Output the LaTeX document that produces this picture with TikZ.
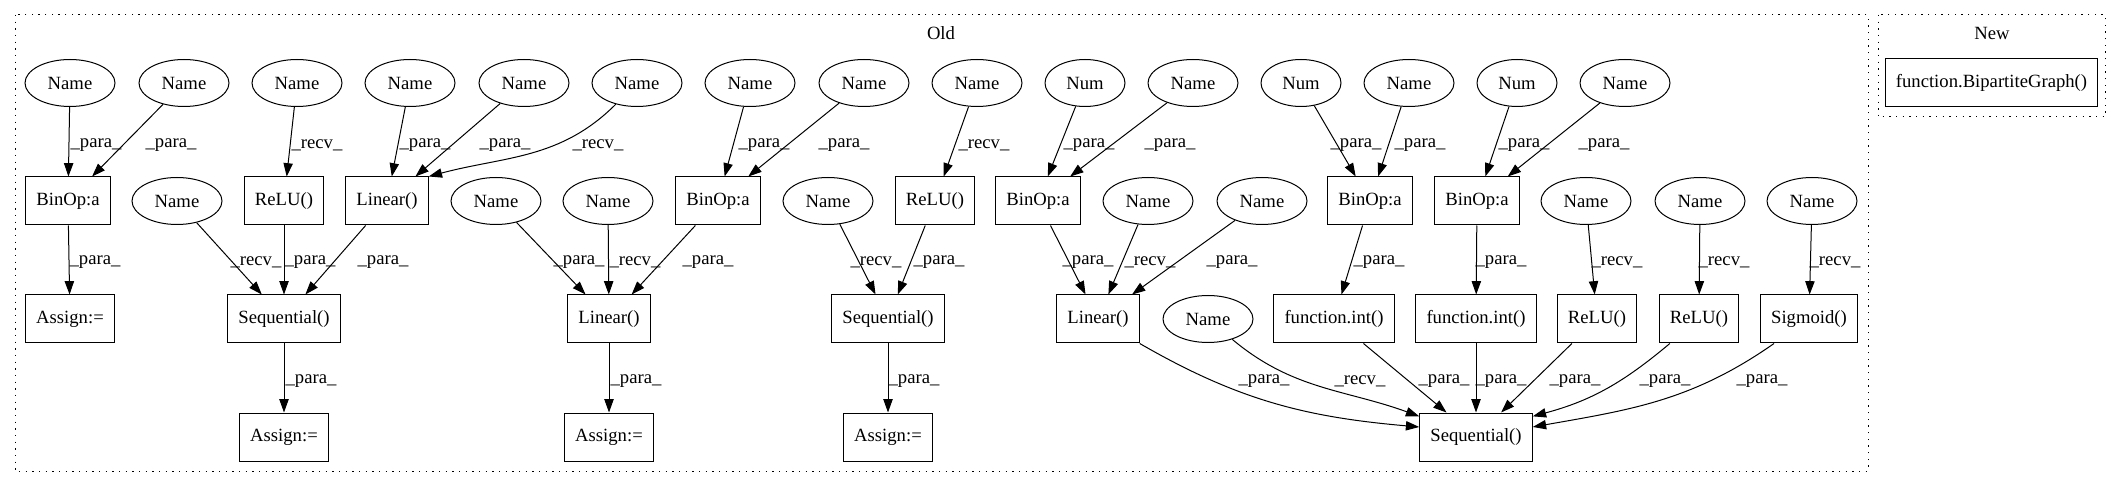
\documentclass[tikz,border=0pt]{standalone}
\usepackage{fontspec}
\setmainfont{Liberation Serif}
\usetikzlibrary{arrows.meta,shapes.geometric}

\begin{document}
\begin{tikzpicture}[x=0.75pt,y=-0.75pt,line width=0.75pt,
    font=\fontsize{14}{16}\selectfont,
    leaf/.style={draw,ellipse,inner sep=0pt,minimum width=67.5pt,minimum height=35.25pt},
    numleaf/.style={leaf,minimum width=60pt},
    op/.style={draw,rectangle,inner xsep=8pt,minimum width=54pt,minimum height=36pt},
    flow/.style={-{Triangle[length=10pt,width=7pt]}},
    lbl/.style={inner sep=0pt},
    group/.style={draw,dash pattern=on 1pt off 4pt}]

        \useasboundingbox (0,0) rectangle (2121,488);

        % the two clusters
        \draw [group] (15,15) rectangle (1868,471);
        \node (old) at (941,33) {Old};
        \draw [group] (1878,15) rectangle (2105,117);
        \node (new) at (1992,33) {New};
        \node [op] (bg) at (1991.5,83) {function.BipartiteGraph()};

        % top row
        \node [leaf] (na1) at (70,83) {Name};
        \node [leaf] (na2) at (184,83) {Name};
        \node [leaf] (na3) at (297,83) {Name};
        \node [leaf] (na4) at (410,83) {Name};
        \node [leaf] (na5) at (524,83) {Name};
        \node [leaf] (na6) at (637,83) {Name};
        \node [leaf] (na7) at (750,83) {Name};
        \node [leaf] (na8) at (864,83) {Name};
        \node [leaf] (na9) at (977,83) {Name};
        \node [numleaf] (nu1) at (1085,83) {Num};
        \node [leaf] (na10) at (1193,83) {Name};
        \node [numleaf] (nu2) at (1301,83) {Num};
        \node [leaf] (na11) at (1409,83) {Name};
        \node [numleaf] (nu3) at (1517,83) {Num};
        \node [leaf] (na12) at (1625,83) {Name};

        % second row
        \node [op] (bin1) at (68,201) {BinOp:a};
        \node [leaf] (nb1) at (177,201) {Name};
        \node [op] (relu1) at (284,201) {ReLU()};
        \node [op] (lin1) at (387,201) {Linear()};
        \node [leaf] (nb2) at (496,201) {Name};
        \node [leaf] (nb3) at (608,201) {Name};
        \node [op] (bin2) at (718,201) {BinOp:a};
        \node [leaf] (nb4) at (828,201) {Name};
        \node [op] (relu2) at (935,201) {ReLU()};
        \node [op] (bin3) at (1038,201) {BinOp:a};
        \node [leaf] (nb5) at (1148,201) {Name};
        \node [leaf] (nb6) at (1262,201) {Name};
        \node [op] (bin4) at (1370,201) {BinOp:a};
        \node [op] (bin5) at (1477,201) {BinOp:a};
        \node [leaf] (nb7) at (1586,201) {Name};
        \node [leaf] (nb8) at (1700,201) {Name};
        \node [leaf] (nb9) at (1812,201) {Name};

        % third row
        \node [op] (asg1) at (70,319) {Assign:=};
        \node [op] (seq1) at (284,319) {Sequential()};
        \node [op] (lin2) at (609,319) {Linear()};
        \node [op] (seq2) at (888,319) {Sequential()};
        \node [op] (lin3) at (1098,319) {Linear()};
        \node [leaf] (nc1) at (1208,319) {Name};
        \node [op] (int1) at (1334,319) {function.int()};
        \node [op] (int2) at (1476,319) {function.int()};
        \node [op] (relu3) at (1597,319) {ReLU()};
        \node [op] (relu4) at (1699,319) {ReLU()};
        \node [op] (sig) at (1809,319) {Sigmoid()};

        % bottom row
        \node [op] (asg2) at (284,437) {Assign:=};
        \node [op] (asg3) at (609,437) {Assign:=};
        \node [op] (asg4) at (888,437) {Assign:=};
        \node [op] (seq3) at (1476,437) {Sequential()};

        % top row -> second row
        \draw [flow] (na1) -- (bin1);  \node [lbl] (e1) at (96,145) {\_para\_};
        \draw [flow] (na2) -- (bin1);  \node [lbl] (e2) at (171,145) {\_para\_};
        \draw [flow] (na3) -- (relu1); \node [lbl] (e3) at (317,145) {\_recv\_};
        \draw [flow] (na4) -- (lin1);  \node [lbl] (e4) at (425,145) {\_para\_};
        \draw [flow] (na5) -- (lin1);  \node [lbl] (e5) at (505,145) {\_para\_};
        \draw [flow] (na6) to[out=-135, in=15] (lin1.north east);
        \node [lbl] (e6) at (598,145) {\_recv\_};
        \draw [flow] (na7) -- (bin2);  \node [lbl] (e7) at (764,145) {\_para\_};
        \draw [flow] (na8) -- (bin2);  \node [lbl] (e8) at (844,145) {\_para\_};
        \draw [flow] (na9) -- (relu2); \node [lbl] (e9) at (984,145) {\_recv\_};
        \draw [flow] (nu1) -- (bin3);  \node [lbl] (e10) at (1089,145) {\_para\_};
        \draw [flow] (na10) -- (bin3); \node [lbl] (e11) at (1170,145) {\_para\_};
        \draw [flow] (nu2) -- (bin4);  \node [lbl] (e12) at (1356,145) {\_para\_};
        \draw [flow] (na11) -- (bin4); \node [lbl] (e13) at (1420,145) {\_para\_};
        \draw [flow] (nu3) -- (bin5);  \node [lbl] (e14) at (1524,145) {\_para\_};
        \draw [flow] (na12) -- (bin5); \node [lbl] (e15) at (1604,145) {\_para\_};

        % second row -> third row
        \draw [flow] (bin1) -- (asg1); \node [lbl] (f1) at (95,262) {\_para\_};
        \draw [flow] (nb1) -- (seq1);  \node [lbl] (f2) at (256,262) {\_recv\_};
        \draw [flow] (relu1) -- (seq1); \node [lbl] (f3) at (310,262) {\_para\_};
        \draw [flow] (lin1) -- (seq1); \node [lbl] (f4) at (383,262) {\_para\_};
        \draw [flow] (nb2) -- (lin2);  \node [lbl] (f5) at (579,262) {\_para\_};
        \draw [flow] (nb3) -- (lin2);  \node [lbl] (f6) at (635,262) {\_recv\_};
        \draw [flow] (bin2) -- (lin2); \node [lbl] (f7) at (708,262) {\_para\_};
        \draw [flow] (nb4) -- (seq2);  \node [lbl] (f8) at (876,262) {\_recv\_};
        \draw [flow] (relu2) -- (seq2); \node [lbl] (f9) at (939,262) {\_para\_};
        \draw [flow] (bin3) -- (lin3); \node [lbl] (f10) at (1088,262) {\_para\_};
        \draw [flow] (nb5) -- (lin3);  \node [lbl] (f11) at (1150,262) {\_recv\_};
        \draw [flow] (nb6) -- (lin3);  \node [lbl] (f12) at (1232,262) {\_para\_};
        \draw [flow] (bin4) -- (int1); \node [lbl] (f13) at (1379,262) {\_para\_};
        \draw [flow] (bin5) -- (int2); \node [lbl] (f14) at (1501,262) {\_para\_};
        \draw [flow] (nb7) -- (relu3); \node [lbl] (f15) at (1617,262) {\_recv\_};
        \draw [flow] (nb8) -- (relu4); \node [lbl] (f16) at (1724,262) {\_recv\_};
        \draw [flow] (nb9) -- (sig);   \node [lbl] (f17) at (1835,262) {\_recv\_};

        % third row -> bottom row
        \draw [flow] (seq1) -- (asg2); \node [lbl] (g1) at (311,381) {\_para\_};
        \draw [flow] (lin2) -- (asg3); \node [lbl] (g2) at (636,381) {\_para\_};
        \draw [flow] (seq2) -- (asg4); \node [lbl] (g3) at (914,381) {\_para\_};
        \draw [flow] (lin3.south east) to[out=-30, in=175] (seq3.170);
        \node [lbl] (g4) at (1264,381) {\_para\_};
        \draw [flow] (nc1) to[out=-40, in=160] (seq3.160);
        \node [lbl] (g5) at (1360,381) {\_recv\_};
        \draw [flow] (int1) -- (seq3);  \node [lbl] (g6) at (1444,381) {\_para\_};
        \draw [flow] (int2) -- (seq3);  \node [lbl] (g7) at (1501,381) {\_para\_};
        \draw [flow] (relu3) -- (seq3); \node [lbl] (g8) at (1575,381) {\_para\_};
        \draw [flow] (relu4) to[out=-140, in=15] (seq3.20);
        \node [lbl] (g9) at (1665,381) {\_para\_};
        \draw [flow] (sig) to[out=-145, in=10] (seq3.10);
        \node [lbl] (g10) at (1762,381) {\_para\_};
\end{tikzpicture}
\end{document}
